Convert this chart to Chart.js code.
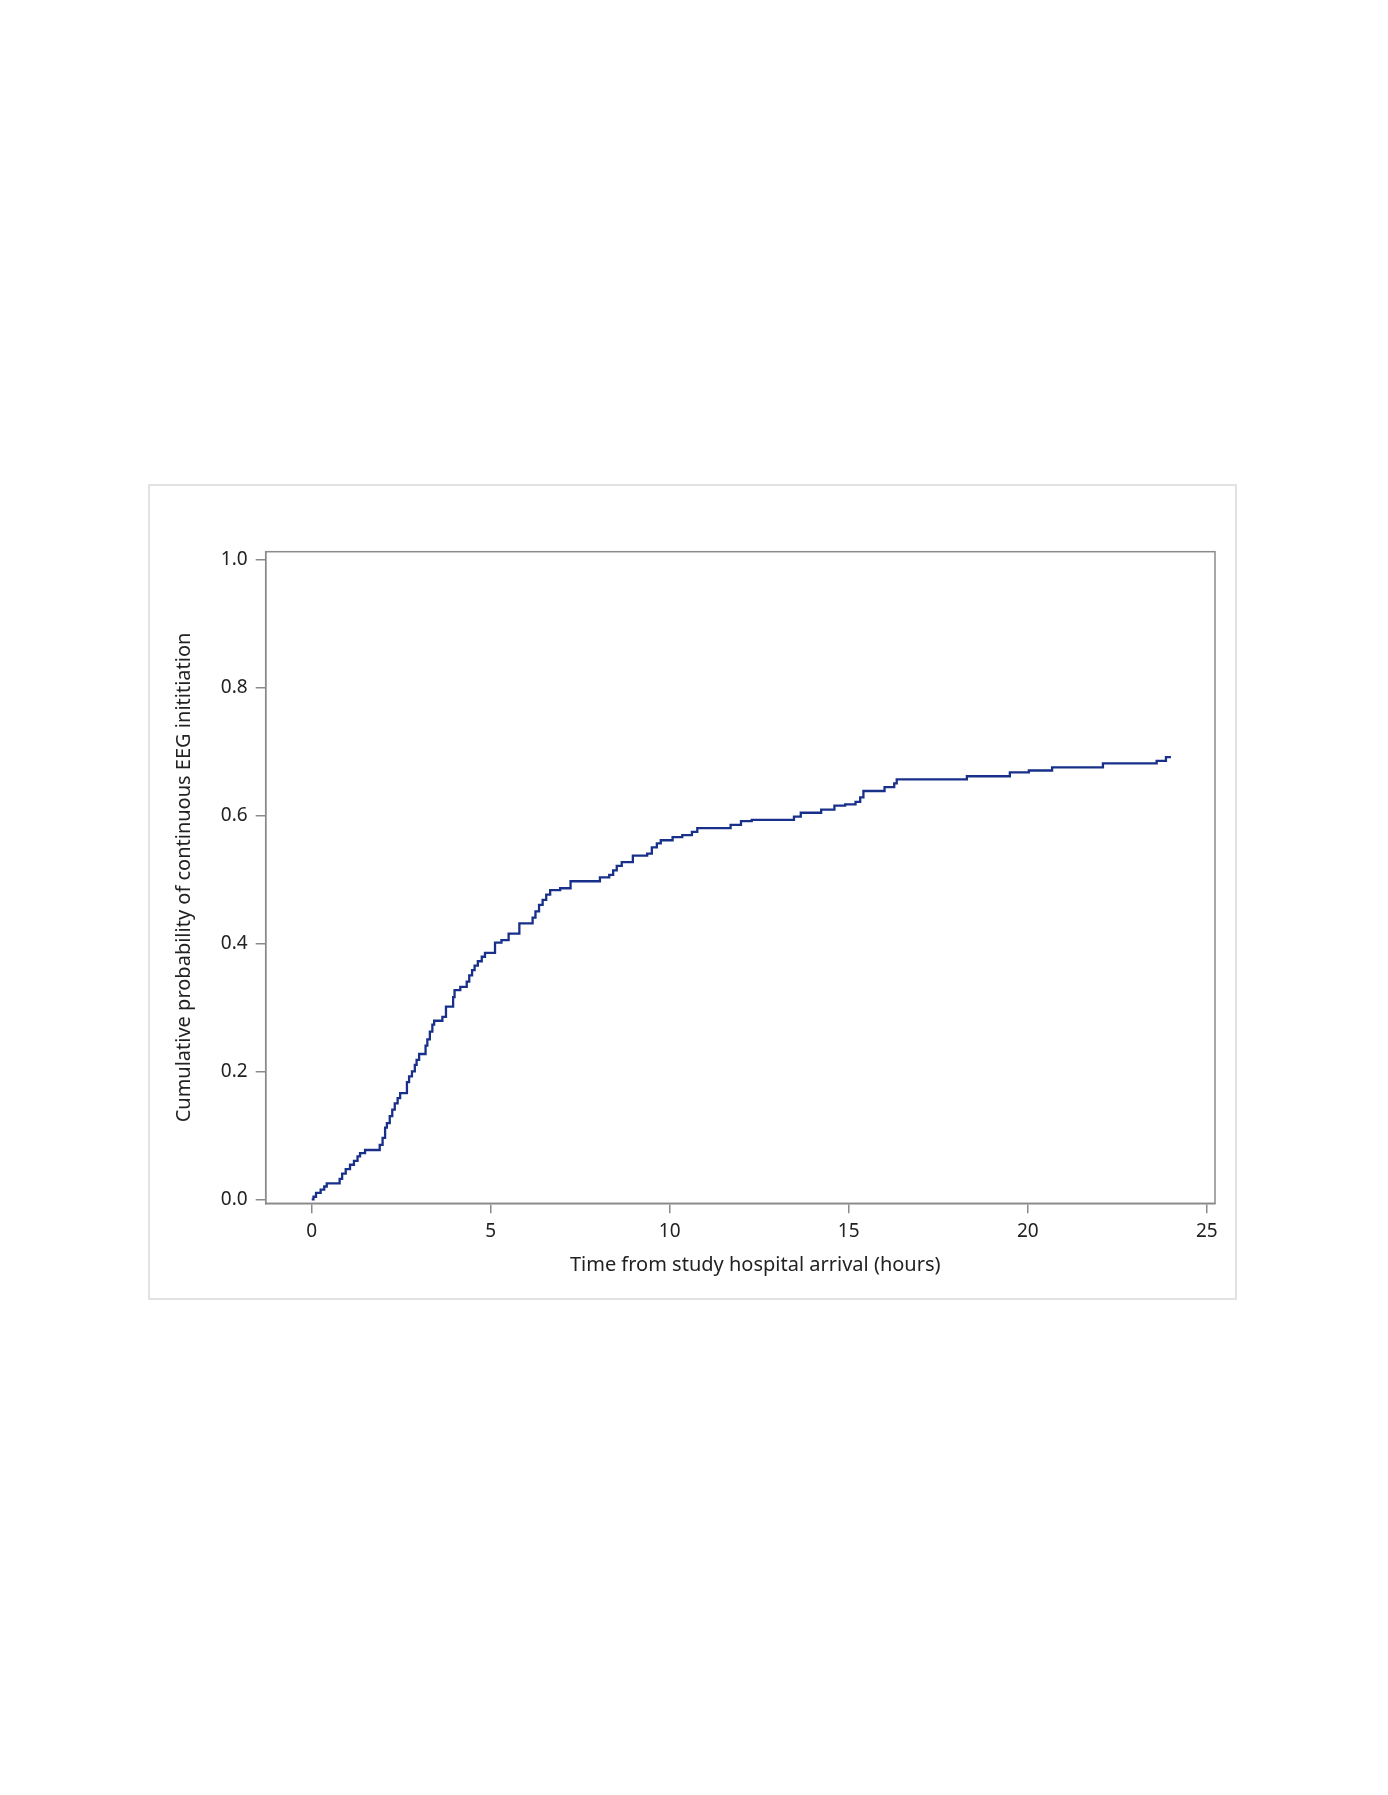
<!DOCTYPE html>
<html>
<head>
<meta charset="utf-8">
<script src="https://cdn.jsdelivr.net/npm/chart.js@4.4.1/dist/chart.umd.min.js"></script>
<style>
  html, body { margin: 0; padding: 0; background: #fff; }
  #frame {
    position: absolute; left: 148px; top: 484px; width: 1089px; height: 816px;
    box-sizing: border-box; border: 2px solid #e2e2e2;
  }
  #wrap { position: absolute; left: 0; top: 0; width: 1388px; height: 1795px; }
</style>
</head>
<body>
<div id="frame"></div>
<div id="wrap"><canvas id="cifChart" width="1388" height="1795"></canvas></div>
<script>
// time (hours) of each step and cumulative probability after the step
const times = [
  0.00, 0.05, 0.12, 0.25, 0.35, 0.42, 0.78, 0.85, 0.95, 1.07, 1.18, 1.28, 1.35, 1.49,
  1.90, 1.98, 2.05, 2.10, 2.18, 2.25, 2.32, 2.40, 2.47, 2.66, 2.72, 2.80, 2.88, 2.93,
  3.00, 3.18, 3.23, 3.30, 3.37, 3.42, 3.65, 3.75, 3.95, 3.99, 4.15, 4.33, 4.40, 4.48,
  4.55, 4.64, 4.75, 4.84, 5.12, 5.30, 5.50, 5.80, 6.17, 6.25, 6.35, 6.45, 6.55, 6.66,
  6.94, 7.23, 8.05, 8.31, 8.42, 8.52, 8.66, 8.97, 9.37, 9.50, 9.64, 9.75, 10.08, 10.35,
  10.62, 10.77, 11.70, 11.99, 12.29, 13.47, 13.66, 14.23, 14.60, 14.90, 15.19, 15.32,
  15.41, 16.00, 16.27, 16.34, 18.30, 19.50, 20.03, 20.68, 22.10, 23.60, 23.86, 24.00
];
const probs = [
  0.000, 0.004, 0.010, 0.015, 0.020, 0.025, 0.032, 0.040, 0.047, 0.054, 0.060, 0.067, 0.072, 0.077,
  0.085, 0.096, 0.112, 0.119, 0.130, 0.140, 0.150, 0.158, 0.166, 0.183, 0.192, 0.200, 0.210, 0.218,
  0.227, 0.240, 0.250, 0.262, 0.273, 0.279, 0.285, 0.301, 0.316, 0.327, 0.332, 0.340, 0.350, 0.358,
  0.365, 0.372, 0.379, 0.385, 0.401, 0.405, 0.415, 0.431, 0.440, 0.450, 0.460, 0.468, 0.476, 0.483,
  0.486, 0.497, 0.503, 0.507, 0.514, 0.521, 0.527, 0.537, 0.540, 0.550, 0.556, 0.561, 0.566, 0.569,
  0.574, 0.580, 0.585, 0.591, 0.593, 0.598, 0.604, 0.609, 0.615, 0.617, 0.621, 0.628,
  0.638, 0.644, 0.650, 0.656, 0.661, 0.667, 0.670, 0.675, 0.681, 0.685, 0.691, 0.691
];
const xTicks = [0, 5, 10, 15, 20, 25];
const yTicks = [0, 0.2, 0.4, 0.6, 0.8, 1.0];

const xTitle = "Time from study hospital arrival (hours)";
const yTitle = "Cumulative probability of continuous EEG inititiation";

const axisGray = "#8a8a8a";
const textColor = "#222222";
const fontFamily = "'Noto Sans', 'DejaVu Sans', sans-serif";

// box round the plot area + x title
const framePlugin = {
  id: "framePlugin",
  afterDraw(chart) {
    const { ctx, chartArea } = chart;
    ctx.save();
    ctx.strokeStyle = axisGray;
    ctx.lineWidth = 1.5;
    ctx.strokeRect(chartArea.left, chartArea.top, chartArea.right - chartArea.left, chartArea.bottom - chartArea.top);
    const xs = chart.scales.x;
    const cx = (xs.getPixelForValue(xTicks[0]) + xs.getPixelForValue(xTicks[xTicks.length - 1])) / 2 - 4;
    ctx.fillStyle = textColor;
    ctx.font = "20px " + fontFamily;
    ctx.textAlign = "center";
    ctx.textBaseline = "middle";
    ctx.fillText(xTitle, cx, chartArea.bottom + 62);
    ctx.restore();
  },
};

const ctx = document.getElementById("cifChart").getContext("2d");
const cifChart = new Chart(ctx, {
  type: "line",
  data: {
    datasets: [
      {
        data: times.map((t, i) => ({ x: t, y: probs[i] })),
        borderColor: "#18308a",
        borderWidth: 2.3,
        pointRadius: 0,
        stepped: true,
        fill: false,
      },
    ],
  },
  options: {
    responsive: false,
    animation: false,
    layout: {
      padding: { left: 165.7, top: 551.7, right: 173, bottom: 491.7 },
    },
    plugins: {
      legend: { display: false },
      tooltip: { enabled: false },
    },
    scales: {
      x: {
        type: "linear",
        min: -1.285,
        max: 25.23,
        afterBuildTicks: (scale) => {
          scale.ticks = xTicks.map((v) => ({ value: v }));
        },
        afterFit: (scale) => {
          scale.height = 100;
        },
        grid: {
          drawOnChartArea: false,
          drawTicks: true,
          tickLength: 10,
          color: axisGray,
          lineWidth: 1.5,
        },
        border: { display: true, color: axisGray, width: 1.5 },
        ticks: {
          color: textColor,
          font: { family: fontFamily, size: 19 },
          padding: 7,
          maxRotation: 0,
          callback: (v) => String(v),
        },
      },
      y: {
        type: "linear",
        min: -0.00625,
        max: 1.0119,
        afterBuildTicks: (scale) => {
          scale.ticks = yTicks.map((v) => ({ value: v }));
        },
        afterFit: (scale) => {
          scale.width = 100;
        },
        grid: {
          drawOnChartArea: false,
          drawTicks: true,
          tickLength: 10,
          color: axisGray,
          lineWidth: 1.5,
        },
        border: { display: true, color: axisGray, width: 1.5 },
        ticks: {
          color: textColor,
          font: { family: fontFamily, size: 19 },
          padding: 8,
          callback: (v) => Number(v).toFixed(1),
        },
        title: {
          display: true,
          text: yTitle,
          color: textColor,
          font: { family: fontFamily, size: 20 },
          padding: { top: 7, bottom: 0 },
        },
      },
    },
  },
  plugins: [framePlugin],
});
</script>
</body>
</html>
